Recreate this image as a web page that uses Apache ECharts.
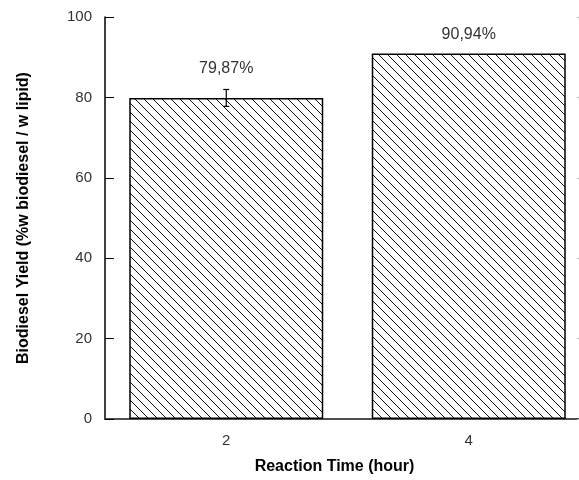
<!DOCTYPE html>
<html>
<head>
<meta charset="utf-8">
<script src="https://cdn.jsdelivr.net/npm/echarts@6/dist/echarts.min.js"></script>
<style>
  html, body { margin: 0; padding: 0; background: #fff; }
  #chart { width: 579px; height: 480px; }
</style>
</head>
<body>
<div id="chart"></div>
<script>
const categories = ['2', '4']
const yieldValues = [79.87, 90.94]
const errorValues = [2.1, 0]
const valueLabels = ['79,87%', '90,94%']

const FONT = '"Liberation Sans", Arial, sans-serif'

// hatch pattern "\\\" like the original plot
const makeHatch = () => {
  const size = 9
  const c = document.createElement('canvas')
  c.width = size
  c.height = size
  const ctx = c.getContext('2d')
  ctx.fillStyle = '#fff'
  ctx.fillRect(0, 0, size, size)
  ctx.strokeStyle = '#111'
  ctx.lineWidth = 1
  for (const off of [-size, 0, size]) {
    ctx.beginPath()
    ctx.moveTo(off - 1, -1)
    ctx.lineTo(off + size + 1, size + 1)
    ctx.stroke()
  }
  return c
}

const chart = echarts.init(document.getElementById('chart'))

const option = {
  animation: false,
  textStyle: { fontFamily: FONT },
  grid: { left: 105, top: 17, width: 485, height: 402, containLabel: false, outerBoundsMode: 'none' },
  xAxis: [
    {
      type: 'category',
      data: categories,
      position: 'bottom',
      name: 'Reaction Time (hour)',
      nameLocation: 'middle',
      nameGap: 40,
      nameTextStyle: { fontFamily: FONT, fontSize: 16, fontWeight: 'bold', color: '#000', padding: [0, 26, 0, 0] },
      axisLine: { lineStyle: { color: '#000', width: 1.5 } },
      axisTick: { inside: true, length: 9, lineStyle: { color: '#000' } },
      axisLabel: { margin: 14, fontSize: 15, color: '#333', fontFamily: FONT },
      splitLine: { show: false }
    },
    {
      type: 'category',
      data: categories,
      position: 'top',
      axisLine: { lineStyle: { color: '#555', width: 1.5 } },
      axisTick: { inside: true, length: 9, lineStyle: { color: '#444' } },
      axisLabel: { show: false },
      splitLine: { show: false }
    }
  ],
  yAxis: [
    {
      type: 'value',
      min: 0,
      max: 100,
      interval: 20,
      position: 'left',
      name: 'Biodiesel Yield (%w biodiesel / w lipid)',
      nameLocation: 'middle',
      nameGap: 73,
      nameTextStyle: { fontFamily: FONT, fontSize: 16, fontWeight: 'bold', color: '#000' },
      axisLine: { show: true, lineStyle: { color: '#000', width: 1.5 } },
      axisTick: { show: true, inside: true, length: 9, lineStyle: { color: '#000' } },
      axisLabel: { margin: 13, fontSize: 15, color: '#333', fontFamily: FONT },
      splitLine: { show: false }
    },
    {
      type: 'value',
      min: 0,
      max: 100,
      interval: 20,
      position: 'right',
      axisLine: { show: true, lineStyle: { color: '#555', width: 1.5 } },
      axisTick: { show: true, inside: true, length: 13, lineStyle: { color: '#bbb' } },
      axisLabel: { show: false },
      splitLine: { show: false }
    }
  ],
  series: [
    {
      type: 'bar',
      barCategoryGap: '20%',
      data: yieldValues.map((v, i) => ({
        value: v,
        label: { distance: errorValues[i] > 0 ? 21 : 11 }
      })),
      itemStyle: {
        color: { image: makeHatch(), repeat: 'repeat' },
        borderColor: '#000',
        borderWidth: 1.5
      },
      label: {
        show: true,
        position: 'top',
        fontSize: 16,
        color: '#333',
        fontFamily: FONT,
        formatter: (p) => valueLabels[p.dataIndex]
      }
    },
    {
      type: 'custom',
      z: 10,
      data: yieldValues.map((v, i) => [i, v, errorValues[i]]),
      renderItem: (params, api) => {
        const err = api.value(2)
        if (!err) return null
        const top = api.coord([api.value(0), api.value(1) + err])
        const bot = api.coord([api.value(0), api.value(1) - err])
        const hw = 3
        const style = { stroke: '#000', lineWidth: 1.2 }
        return {
          type: 'group',
          children: [
            { type: 'line', shape: { x1: top[0], y1: top[1], x2: bot[0], y2: bot[1] }, style },
            { type: 'line', shape: { x1: top[0] - hw, y1: top[1], x2: top[0] + hw, y2: top[1] }, style },
            { type: 'line', shape: { x1: bot[0] - hw, y1: bot[1], x2: bot[0] + hw, y2: bot[1] }, style }
          ]
        }
      }
    }
  ]
}

chart.setOption(option)
</script>
</body>
</html>
